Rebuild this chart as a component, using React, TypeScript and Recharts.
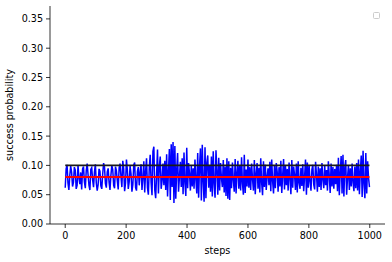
import React from 'react';
import { ComposedChart, Line, XAxis, YAxis, Label } from 'recharts';

const STEP = 3;
const successProb = [
  .062,.094,.101,.070,.058,.083,.099,.088,.064,.071,.097,.092,.060,.066,.100,.079,.068,.088,.059,.094,
  .098,.072,.061,.091,.103,.084,.066,.058,.093,.096,.075,.063,.089,.102,.070,.057,.067,.094,.090,.065,
  .060,.085,.104,.097,.069,.062,.089,.095,.071,.058,.083,.100,.093,.066,.061,.098,.091,.074,.059,.096,
  .103,.081,.063,.108,.094,.056,.070,.110,.092,.060,.072,.099,.086,.055,.067,.101,.105,.062,.057,.090,
  .097,.066,.088,.102,.058,.079,.107,.054,.091,.112,.062,.050,.096,.118,.071,.049,.124,.132,.058,.044,
  .085,.127,.052,.098,.115,.060,.074,.103,.066,.108,.058,.119,.047,.090,.128,.041,.136,.063,.140,.036,
  .133,.043,.092,.121,.055,.080,.106,.063,.112,.051,.122,.070,.048,.130,.061,.104,.087,.057,.099,.064,
  .095,.060,.110,.076,.052,.121,.045,.098,.129,.040,.135,.072,.038,.131,.044,.105,.117,.062,.100,.055,
  .115,.047,.124,.068,.045,.126,.091,.050,.113,.057,.104,.078,.063,.109,.054,.098,.048,.112,.043,.107,
  .041,.096,.061,.105,.075,.055,.111,.052,.088,.108,.060,.099,.057,.114,.069,.050,.118,.053,.093,.064,
  .110,.062,.097,.058,.103,.077,.057,.109,.051,.086,.104,.060,.096,.054,.112,.070,.049,.107,.063,.101,
  .058,.082,.095,.066,.106,.056,.110,.073,.052,.099,.061,.104,.089,.055,.097,.064,.108,.053,.083,.111,
  .059,.100,.066,.094,.057,.105,.078,.051,.109,.062,.098,.084,.058,.103,.054,.107,.070,.060,.096,.065,
  .102,.056,.081,.110,.050,.105,.062,.099,.072,.057,.093,.101,.067,.059,.106,.085,.055,.098,.063,.095,
  .058,.104,.076,.061,.100,.066,.092,.057,.107,.083,.053,.103,.064,.097,.060,.094,.068,.101,.056,.113,
  .049,.088,.116,.052,.118,.047,.097,.109,.050,.080,.100,.058,.095,.064,.103,.071,.056,.098,.061,.104,
  .057,.110,.051,.090,.117,.046,.125,.068,.044,.121,.052,.107,.079,.063,
];

const stepRange = [0, 999];
const targetLevel = 0.1;
const meanLevel = 0.08;

const xDomain = [-50, 1050];
const yDomain = [0, 0.372];
const xTicks = [0, 200, 400, 600, 800, 1000];
const yTicks = [0, 0.05, 0.1, 0.15, 0.2, 0.25, 0.3, 0.35];

const blueData = successProb.map((v, i) => ({ x: i * STEP, y: v }));
const targetData = stepRange.map((s) => ({ x: s, y: targetLevel }));
const meanData = stepRange.map((s) => ({ x: s, y: meanLevel }));

const FONT = 'DejaVu Sans';
const FS = 9.6;
const tickStyle = { fill: '#000', fontSize: FS, fontFamily: FONT };

export default function App() {
  return (
    <div style={{ position: 'fixed', left: 0, top: 0, width: 392, height: 262, background: '#fff' }}>
      <ComposedChart
        width={392}
        height={262}
        margin={{ top: 6, right: 7, bottom: 0, left: 0 }}
      >
        <XAxis
          xAxisId="b"
          type="number"
          dataKey="x"
          domain={xDomain}
          ticks={xTicks}
          allowDataOverflow
          height={38}
          tickSize={4}
          tickMargin={4}
          tick={tickStyle}
          axisLine={{ stroke: '#000', strokeWidth: 0.8 }}
          tickLine={{ stroke: '#000', strokeWidth: 0.8 }}
        >
          <Label
            content={(p: any) => {
              const vb = p.viewBox;
              return (
                <text x={vb.x + vb.width / 2} y={vb.y + 30} textAnchor="middle" fontSize={FS} fontFamily={FONT} fill="#000">
                  steps
                </text>
              );
            }}
          />
        </XAxis>
        <XAxis
          xAxisId="t"
          orientation="top"
          type="number"
          dataKey="x"
          domain={xDomain}
          height={0}
          tick={false}
          tickLine={false}
          axisLine={{ stroke: '#000', strokeWidth: 0.8 }}
        />
        <YAxis
          yAxisId="l"
          type="number"
          domain={yDomain}
          ticks={yTicks}
          allowDataOverflow
          width={50}
          tickSize={4}
          tickMargin={3}
          tick={tickStyle}
          tickFormatter={(v: number) => v.toFixed(2)}
          axisLine={{ stroke: '#000', strokeWidth: 0.8 }}
          tickLine={{ stroke: '#000', strokeWidth: 0.8 }}
        >
          <Label
            content={(p: any) => {
              const vb = p.viewBox;
              const cx = vb.x + 12.5;
              const cy = vb.y + vb.height / 2;
              return (
                <text x={cx} y={cy} transform={`rotate(-90, ${cx}, ${cy})`} textAnchor="middle" fontSize={FS} fontFamily={FONT} fill="#000">
                  success probability
                </text>
              );
            }}
          />
        </YAxis>
        <YAxis
          yAxisId="r"
          orientation="right"
          type="number"
          domain={yDomain}
          width={0}
          tick={false}
          tickLine={false}
          axisLine={{ stroke: '#000', strokeWidth: 0.8 }}
        />
        <Line
          xAxisId="b"
          yAxisId="l"
          data={blueData}
          dataKey="y"
          type="linear"
          stroke="#0000ff"
          strokeWidth={1.5}
          dot={false}
          activeDot={false}
          isAnimationActive={false}
        />
        <Line
          xAxisId="b"
          yAxisId="l"
          data={targetData}
          dataKey="y"
          type="linear"
          stroke="#1a1a1a"
          strokeWidth={1.8}
          dot={false}
          activeDot={false}
          isAnimationActive={false}
        />
        <Line
          xAxisId="b"
          yAxisId="l"
          data={meanData}
          dataKey="y"
          type="linear"
          stroke="#ff0000"
          strokeWidth={2}
          dot={false}
          activeDot={false}
          isAnimationActive={false}
        />
      </ComposedChart>
      <div
        style={{
          position: 'absolute',
          left: 373,
          top: 12,
          width: 7,
          height: 7,
          border: '1px solid #cccccc',
          borderRadius: 1.5,
          boxSizing: 'border-box',
        }}
      />
    </div>
  );
}
